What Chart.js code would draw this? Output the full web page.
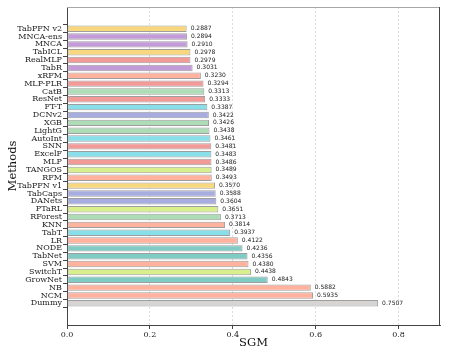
<!DOCTYPE html>
<html>
<head>
<meta charset="utf-8">
<script src="https://cdn.jsdelivr.net/npm/chart.js@4/dist/chart.umd.min.js"></script>
<style>
  html, body { margin: 0; padding: 0; background: #fff; }
  #wrap { width: 449px; height: 359px; }
</style>
</head>
<body>
<div id="wrap"><canvas id="sgmChart" width="449" height="359"></canvas></div>
<script>
const methods = ['TabPFN v2','MNCA-ens','MNCA','TabICL','RealMLP','TabR','xRFM','MLP-PLR','CatB','ResNet',
    'FT-T','DCNv2','XGB','LightG','AutoInt','SNN','ExcelF','MLP','TANGOS','RFM',
    'TabPFN v1','TabCaps','DANets','PTaRL','RForest','KNN','TabT','LR','NODE','TabNet',
    'SVM','SwitchT','GrowNet','NB','NCM','Dummy'];
const sgm = [0.2887,0.2894,0.2910,0.2978,0.2979,0.3031,0.3230,0.3294,0.3313,0.3333,
    0.3387,0.3422,0.3426,0.3438,0.3461,0.3481,0.3483,0.3486,0.3489,0.3493,
    0.3570,0.3588,0.3604,0.3651,0.3713,0.3814,0.3937,0.4122,0.4236,0.4356,
    0.4380,0.4438,0.4843,0.5882,0.5935,0.7507];
const xTicks = [0, 0.2, 0.4, 0.6, 0.8];

// palette per method family
const pal = {
    yellow: '#f9d77e', purple: '#c39bd8', red: '#f19a98', peach: '#ffb29e', green: '#aedcb6',
    cyan: '#88dfea', blue: '#a7addf', lime: '#d9ee8c', teal: '#80cbc4', gray: '#d7d5d3'
};
const barColors = ['yellow','purple','purple','yellow','red','purple','peach','red','green','red',
    'cyan','blue','green','green','cyan','red','cyan','red','lime','peach',
    'yellow','blue','blue','lime','green','peach','cyan','peach','teal','teal',
    'peach','lime','teal','peach','peach','gray'].map(k => pal[k]);

const serif = 'DejaVu Serif';

const valueLabels = {
    id: 'valueLabels',
    afterDatasetsDraw(chart) {
        const ctx = chart.ctx;
        const meta = chart.getDatasetMeta(0);
        ctx.save();
        ctx.font = '6px "DejaVu Sans"';
        ctx.fillStyle = '#222';
        ctx.textAlign = 'left';
        ctx.textBaseline = 'middle';
        meta.data.forEach((bar, i) => {
            ctx.fillText(sgm[i].toFixed(4), bar.x + 4, bar.y);
        });
        ctx.restore();
    }
};

const frame = {
    id: 'frame',
    afterDraw(chart) {
        const {ctx, chartArea: a} = chart;
        ctx.save();
        ctx.lineWidth = 1;
        ctx.strokeStyle = '#a8a8a8';
        ctx.beginPath();
        ctx.moveTo(a.left, a.top + 0.5);
        ctx.lineTo(a.right, a.top + 0.5);
        ctx.stroke();
        ctx.strokeStyle = '#444';
        ctx.beginPath();
        ctx.moveTo(a.right - 0.5, a.top);
        ctx.lineTo(a.right - 0.5, a.bottom);
        ctx.stroke();
        ctx.restore();
    }
};

new Chart(document.getElementById('sgmChart'), {
    type: 'bar',
    data: {
        datasets: [{
            data: methods.map((m, i) => ({ x: sgm[i], y: i })),
            backgroundColor: barColors,
            borderColor: '#9e9e9e',
            borderWidth: 1,
            borderSkipped: false,
            categoryPercentage: 1,
            barPercentage: 0.82
        }]
    },
    options: {
        indexAxis: 'y',
        responsive: false,
        animation: false,
        layout: { padding: { top: 7, right: 9, left: 0, bottom: 0 } },
        plugins: { legend: { display: false }, tooltip: { enabled: false } },
        scales: {
            x: {
                type: 'linear',
                min: 0,
                max: 0.9,
                afterBuildTicks: s => { s.ticks = xTicks.map(v => ({ value: v })); },
                afterFit: s => { s.height = 34; },
                grid: {
                    color: c => c.tick && c.tick.value === 0 ? 'rgba(0,0,0,0)' : '#dcdcdc',
                    tickColor: '#444',
                    tickLength: 4
                },
                border: { color: '#444', width: 1, dash: [2, 2] },
                ticks: {
                    padding: 1,
                    color: '#222',
                    font: { family: serif, size: 8 },
                    callback: v => v.toFixed(1)
                },
                title: {
                    display: true,
                    text: 'SGM',
                    color: '#111',
                    font: { family: serif, size: 11.5 },
                    padding: { top: 2, bottom: 9 }
                }
            },
            y: {
                type: 'linear',
                reverse: true,
                min: -2.2,
                max: 37.2,
                afterBuildTicks: s => { s.ticks = methods.map((m, i) => ({ value: i })); },
                afterFit: s => { s.width = 67; },
                grid: {
                    drawOnChartArea: false,
                    tickColor: '#444',
                    tickLength: 4
                },
                border: { color: '#444', width: 1 },
                ticks: {
                    padding: 1,
                    autoSkip: false,
                    color: '#222',
                    font: { family: serif, size: 8 },
                    callback: v => methods[v]
                },
                title: {
                    display: true,
                    text: 'Methods',
                    color: '#111',
                    font: { family: serif, size: 11.5 },
                    padding: { top: 6, bottom: 2 }
                }
            }
        }
    },
    plugins: [valueLabels, frame]
});
</script>
</body>
</html>
